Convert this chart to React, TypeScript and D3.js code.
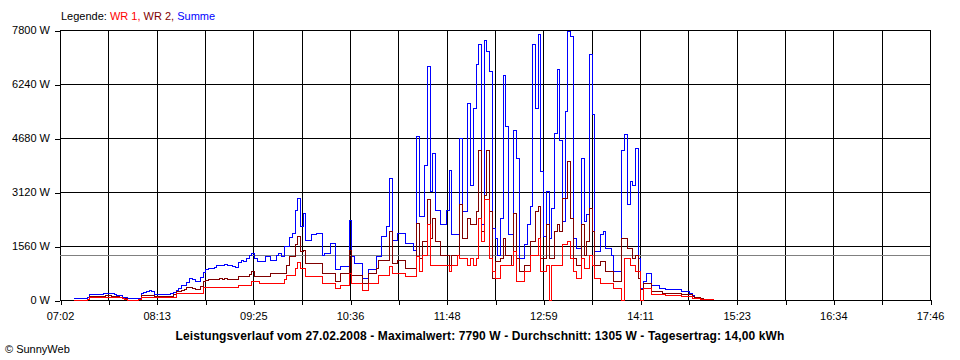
import React, { useEffect, useRef } from 'react';
import * as d3 from 'd3';

// chart values

const yTicks = [0, 1560, 3120, 4680, 6240, 7800];
const timeLabels = ['07:02', '08:13', '09:25', '10:36', '11:48', '12:59', '14:11', '15:23', '16:34', '17:46'];
const dayMinutes = 644; // 07:02 .. 17:46
const gridCount = 18;
const sampleStart = 10; // first sample 07:12, minutes after 07:02
const sampleStep = 2;
const average = 1305;

const summe = [
  29, 29, 29, 29, 29, 60, 164, 164, 170, 173,
  170, 180, 193, 200, 193, 160, 144, 120, 77, 60,
  29, 29, 29, 29, 40, 193, 220, 260, 270, 250,
  150, 173, 170, 165, 173, 170, 175, 220, 280, 340,
  420, 433, 500, 616, 600, 530, 530, 650, 800, 880,
  900, 915, 930, 1000, 1011, 1000, 1030, 1011, 990, 960,
  944, 1080, 1127, 1100, 1200, 1300, 1329, 1200, 1107, 1107,
  1107, 1252, 1252, 1155, 1155, 1300, 1348, 1250, 1541, 1541,
  1800, 1926, 2600, 2937, 2118, 2504, 1733, 1733, 1880, 1880,
  1926, 1926, 1300, 1348, 1348, 1637, 1637, 867, 867, 963,
  963, 963, 2311, 1252, 1059, 1059, 1059, 626, 626, 867,
  867, 867, 1252, 1252, 1830, 1830, 2118, 3515, 1733, 1733,
  1926, 1926, 1926, 1637, 1637, 1637, 1444, 4718, 2407, 2407,
  3900, 6760, 3130, 4237, 2600, 2600, 2167, 2167, 2600, 3737,
  1878, 1878, 1878, 4670, 2552, 2552, 5682, 3322, 5537, 6789,
  7367, 2167, 7511, 7175, 6597, 2070, 1781, 1300, 2359, 6500,
  5000, 1878, 1878, 4911, 4093, 1204, 1204, 1589, 2167, 2697,
  7367, 5537, 7656, 3708, 1830, 3130, 1781, 2648, 4815, 6645,
  4622, 2260, 5441, 7752, 7608, 1781, 1493, 1493, 4093, 2263,
  2456, 7078, 5345, 1400, 1400, 1878, 1974, 1493, 1493, 1300,
  819, 819, 819, 4333, 4767, 2745, 3419, 3322, 4381, 1204,
  337, 530, 770, 770, 433, 433, 433, 337, 337, 289,
  289, 289, 289, 289, 289, 241, 241, 241, 200, 144,
  67, 67, 50, 19, 19, 19, 19, 19,
];

const wr2 = [
  0, 0, 0, 0, 0, 20, 96, 96, 96, 110,
  96, 110, 125, 120, 110, 96, 96, 80, 50, 30,
  0, 0, 0, 0, 10, 125, 125, 130, 140, 125,
  100, 96, 96, 96, 96, 100, 110, 150, 260, 260,
  280, 300, 366, 366, 330, 289, 289, 400, 530, 560,
  597, 590, 600, 597, 610, 600, 620, 597, 590, 600,
  600, 693, 693, 680, 693, 750, 818, 674, 674, 674,
  674, 674, 674, 770, 770, 770, 770, 770, 770, 1000,
  1252, 1252, 1600, 1830, 1400, 1444, 1059, 1059, 1059, 1059,
  1059, 1059, 770, 770, 770, 770, 770, 530, 530, 770,
  770, 770, 1444, 722, 722, 722, 722, 481, 481, 770,
  770, 770, 915, 1155, 1155, 1155, 1155, 1974, 1059, 1059,
  1155, 1155, 1155, 915, 915, 915, 915, 2215, 1204, 1685,
  1685, 2889, 1781, 2359, 1685, 1685, 1300, 1300, 1300, 1011,
  1300, 1300, 1300, 2745, 1781, 1781, 2359, 2167, 2167, 2552,
  4333, 1974, 3033, 4305, 2552, 626, 1107, 1107, 1204, 1781,
  1300, 1300, 1011, 2504, 1204, 819, 819, 1011, 1011, 1685,
  1685, 2552, 2697, 1204, 1204, 2167, 1204, 1204, 1974, 2167,
  1974, 2937, 2937, 3996, 2359, 1204, 1011, 1011, 2167, 1300,
  1685, 2648, 1974, 1011, 1011, 1107, 1107, 819, 819, 819,
  530, 530, 530, 1781, 1781, 1493, 1493, 1204, 1300, 626,
  289, 482, 482, 482, 241, 241, 241, 241, 193, 193,
  193, 193, 193, 193, 193, 164, 164, 164, 164, 100,
  67, 67, 40, 19, 19, 19, 19, 19,
];

const wr1 = [
  0, 0, 0, 0, 0, 20, 75, 75, 75, 75,
  75, 75, 75, 75, 75, 75, 75, 75, 50, 20,
  0, 0, 0, 0, 10, 75, 75, 75, 75, 75,
  75, 75, 75, 75, 75, 75, 75, 75, 193, 193,
  193, 193, 193, 193, 193, 193, 193, 193, 366, 366,
  366, 366, 366, 366, 366, 366, 366, 366, 366, 366,
  366, 433, 433, 433, 433, 433, 530, 530, 530, 481,
  481, 481, 481, 481, 481, 481, 481, 481, 600, 722,
  722, 722, 900, 1079, 915, 915, 674, 674, 674, 674,
  674, 674, 481, 481, 481, 481, 481, 337, 337, 433,
  433, 433, 770, 481, 481, 481, 481, 270, 270, 481,
  481, 481, 481, 722, 722, 722, 722, 963, 770, 770,
  770, 770, 770, 674, 674, 674, 674, 1252, 819, 1300,
  1300, 2167, 1011, 1011, 1011, 1011, 1011, 1011, 1011, 819,
  1011, 1011, 1300, 1204, 1204, 1204, 1011, 1204, 1011, 1204,
  2359, 1685, 2889, 2889, 1204, 819, 626, 626, 1011, 1011,
  1011, 1011, 1011, 1396, 530, 530, 530, 819, 819, 1300,
  1300, 1300, 1781, 819, 819, 1011, 0, 1011, 1011, 1011,
  1011, 1589, 1589, 1685, 1204, 819, 626, 626, 1204, 915,
  915, 1300, 1011, 626, 626, 482, 482, 482, 482, 482,
  337, 337, 337, 0, 1204, 1204, 1011, 1011, 819, 819,
  0, 337, 337, 337, 164, 164, 164, 164, 164, 125,
  125, 125, 125, 125, 125, 96, 96, 96, 96, 48,
  48, 48, 20, 10, 10, 10, 10, 10,
];

const caption = 'Leistungsverlauf vom 27.02.2008 - Maximalwert: 7790 W - Durchschnitt: 1305 W - Tagesertrag: 14,00 kWh';

const width = 960;
const height = 360;
const margin = { top: 30, right: 30, bottom: 60, left: 60 };
const font = '"Liberation Sans", Arial, sans-serif';

const App = () => {
  const ref = useRef<SVGSVGElement>(null);

  useEffect(() => {
    const svg = d3.select(ref.current);
    svg.selectAll('*').remove();

    const x = d3.scaleLinear().domain([0, dayMinutes]).range([margin.left, width - margin.right]);
    const y = d3.scaleLinear().domain([0, 7800]).range([height - margin.bottom, margin.top]);
    const gridMinutes = d3.range(gridCount + 1).map(i => (i * dayMinutes) / gridCount);

    // grid
    const grid = svg.append('g').attr('shape-rendering', 'crispEdges').attr('stroke', '#000');
    grid.selectAll('line.v')
      .data(gridMinutes)
      .enter()
      .append('line')
      .attr('x1', d => Math.round(x(d)) + 0.5)
      .attr('x2', d => Math.round(x(d)) + 0.5)
      .attr('y1', y(7800))
      .attr('y2', y(0));
    grid.selectAll('line.h')
      .data(yTicks)
      .enter()
      .append('line')
      .attr('x1', x(0))
      .attr('x2', x(dayMinutes) + 1)
      .attr('y1', d => Math.round(y(d)) + 0.5)
      .attr('y2', d => Math.round(y(d)) + 0.5);

    // axes
    const xAxis = d3.axisBottom(x)
      .tickValues(gridMinutes)
      .tickSize(5)
      .tickPadding(7)
      .tickFormat((d, i) => (i % 2 === 0 ? timeLabels[i / 2] : ''));
    const yAxis = d3.axisLeft(y)
      .tickValues(yTicks)
      .tickSize(5)
      .tickPadding(5)
      .tickFormat(d => d + ' W');

    const xg = svg.append('g').attr('transform', `translate(0, ${y(0)})`).call(xAxis);
    const yg = svg.append('g').attr('transform', `translate(${x(0)}, 0)`).call(yAxis);
    [xg, yg].forEach(g => {
      g.select('.domain').remove();
      g.selectAll('line').attr('stroke', '#000').attr('shape-rendering', 'crispEdges');
      g.selectAll('text').attr('fill', '#000').style('font-family', font).style('font-size', '11px');
    });
    xg.selectAll('.tick line').attr('transform', 'translate(0.5,0)');
    yg.selectAll('.tick line').attr('transform', 'translate(0,0.5)');

    // average line
    svg.append('line')
      .attr('x1', x(0))
      .attr('x2', x(dayMinutes))
      .attr('y1', Math.round(y(average)) + 0.5)
      .attr('y2', Math.round(y(average)) + 0.5)
      .attr('stroke', '#808080')
      .attr('shape-rendering', 'crispEdges');

    const line = d3.line<number>()
      .x((d, i) => x(sampleStart + i * sampleStep))
      .y(d => y(d))
      .curve(d3.curveStepAfter);

    const series = [
      { values: summe, color: '#0000ff' },
      { values: wr2, color: '#800000' },
      { values: wr1, color: '#ff0000' },
    ];
    svg.selectAll('path.series')
      .data(series)
      .enter()
      .append('path')
      .attr('class', 'series')
      .attr('d', d => line(d.values))
      .attr('fill', 'none')
      .attr('stroke', d => d.color)
      .attr('stroke-width', 1)
      .attr('shape-rendering', 'crispEdges');

    // legend
    const legend = svg.append('text')
      .attr('x', 61)
      .attr('y', 20)
      .style('font-family', font)
      .style('font-size', '11px');
    legend.append('tspan').attr('fill', '#000').text('Legende: ');
    legend.append('tspan').attr('fill', '#ff0000').text('WR 1, ');
    legend.append('tspan').attr('fill', '#800000').text('WR 2, ');
    legend.append('tspan').attr('fill', '#0000ff').text('Summe');

    svg.append('text')
      .attr('x', 480)
      .attr('y', 340)
      .attr('text-anchor', 'middle')
      .style('font-family', font)
      .style('font-size', '12px')
      .style('font-weight', 'bold')
      .style('letter-spacing', '0.12px')
      .text(caption);

    svg.append('text')
      .attr('x', 5)
      .attr('y', 353)
      .style('font-family', font)
      .style('font-size', '11px')
      .text('\u00a9 SunnyWeb');
  }, []);

  return (
    <svg
      ref={ref}
      width={width}
      height={height}
      style={{ position: 'absolute', left: 0, top: 0, background: '#fff' }}
    />
  );
};

export default App;
